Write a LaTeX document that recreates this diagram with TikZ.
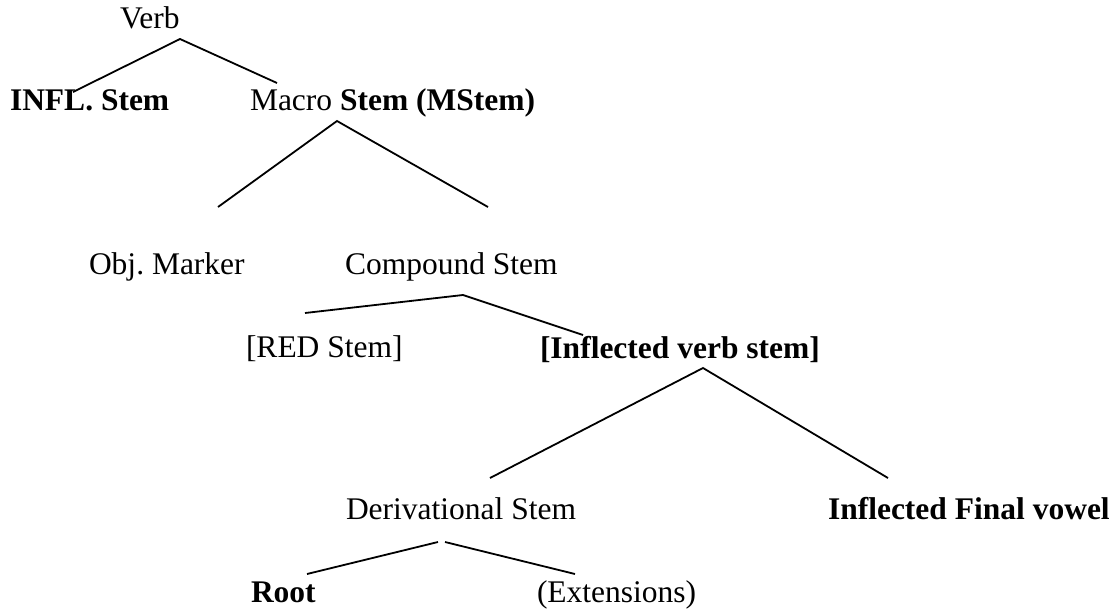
\documentclass[tikz,border=0pt]{standalone}
\usepackage{fontspec}
\setmainfont{Liberation Serif}
\frenchspacing
\begin{document}
\begin{tikzpicture}[x=1pt,y=-1pt,
  lbl/.style={anchor=base west,inner sep=0pt,outer sep=0pt,font=\fontsize{31.5}{36}\selectfont},
  branch/.style={line width=1.8pt}]
\useasboundingbox (0,0) rectangle (1117,611);

% labels of the tree
\node[lbl] (verb) at (120,28) {Verb};
\node[lbl] (infl) at (10,110) {\bfseries INFL. Stem};
\node[lbl] (mstem) at (250,110) {Macro \textbf{Stem (MStem)}};
\node[lbl] (obj) at (89,274) {Obj. Marker};
\node[lbl] (comp) at (345,274) {Compound Stem};
\node[lbl] (red) at (246,357) {[RED Stem]};
\node[lbl] (ivs) at (540,358) {\bfseries [Inflected verb stem]};
\node[lbl] (der) at (346,519) {Derivational Stem};
\node[lbl] (ifv) at (828,519) {\bfseries Inflected Final vowel};
\node[lbl] (root) at (251,602) {\bfseries Root};
\node[lbl] (ext) at (537,602) {(Extensions)};

% branch points and branch ends
\coordinate (verbTop) at (180,39);
\coordinate (inflEnd) at (73,92);
\coordinate (mstemEnd) at (277,83);
\coordinate (mstemTop) at (337,121);
\coordinate (objEnd) at (218,207);
\coordinate (compEnd) at (488,207);
\coordinate (compTop) at (463,295);
\coordinate (redEnd) at (305,313);
\coordinate (ivsEnd) at (583,335);
\coordinate (ivsTop) at (703,368);
\coordinate (derEnd) at (490,478);
\coordinate (ifvEnd) at (888,478);
\coordinate (derTopL) at (438,542);
\coordinate (derTopR) at (445,542);
\coordinate (rootEnd) at (307,574);
\coordinate (extEnd) at (575,574);

% branches
\draw[branch] (inflEnd) -- (verbTop) -- (mstemEnd);
\draw[branch] (objEnd) -- (mstemTop) -- (compEnd);
\draw[branch] (redEnd) -- (compTop) -- (ivsEnd);
\draw[branch] (derEnd) -- (ivsTop) -- (ifvEnd);
\draw[branch] (rootEnd) -- (derTopL);
\draw[branch] (derTopR) -- (extEnd);
\end{tikzpicture}
\end{document}
